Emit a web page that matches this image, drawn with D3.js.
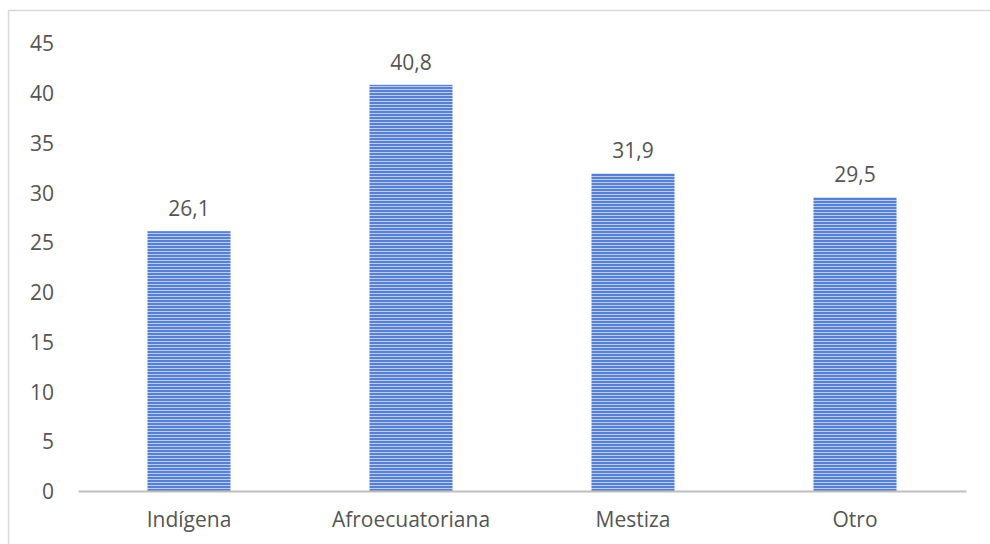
<!DOCTYPE html>
<html><head><meta charset="utf-8">
<script src="https://cdn.jsdelivr.net/npm/d3@7"></script>
<style>body{margin:0;background:#fff}svg{display:block}text{font-family:"Open Sans",sans-serif}</style>
</head><body>
<svg id="c" width="990" height="544"></svg>
<script>
const categories = ["Indígena","Afroecuatoriana","Mestiza","Otro"];
const values = [26.1, 40.8, 31.9, 29.5];
const valueLabels = ["26,1","40,8","31,9","29,5"];
const yTicks = [0,5,10,15,20,25,30,35,40,45];

const svg = d3.select("#c");
const defs = svg.append("defs");
const pat = defs.append("pattern").attr("id","stripes").attr("patternUnits","userSpaceOnUse")
  .attr("width",8).attr("height",3);
pat.append("rect").attr("width",8).attr("height",3).attr("fill","#5780d0");
pat.append("rect").attr("y",2).attr("width",8).attr("height",1).attr("fill","#b9cbef");

// frame
svg.append("path").attr("d","M8.5,544 V10.5 H990").attr("fill","none").attr("stroke","#d9d9d9").attr("stroke-width",1.5);

const x = d3.scaleBand().domain(categories).range([78,966]).paddingInner(0.626).paddingOuter(0.313);
const y = d3.scaleLinear().domain([0,45]).range([491,43]);

const yAxis = svg.append("g").attr("transform","translate(54,1)")
  .call(d3.axisLeft(y).tickValues(yTicks).tickSize(0).tickPadding(0).tickFormat(d3.format("d")));
yAxis.select(".domain").remove();
yAxis.selectAll("text").attr("fill","#555").attr("font-size",21).attr("font-family","'Open Sans',sans-serif");

svg.selectAll("rect.bar").data(values).join("rect").attr("class","bar")
  .attr("x",(d,i)=>x(categories[i])).attr("width",x.bandwidth())
  .attr("y",d=>y(d)).attr("height",d=>y(0)-y(d)).attr("fill","url(#stripes)");

const xAxis = svg.append("g").attr("transform",`translate(0,${y(0)})`)
  .call(d3.axisBottom(x).tickSize(0).tickPadding(21));
xAxis.select(".domain").attr("stroke","#bfbfbf").attr("stroke-width",2);
xAxis.selectAll("text").attr("fill","#555").attr("font-size",21).attr("font-family","'Open Sans',sans-serif");

svg.selectAll("text.vl").data(values).join("text").attr("class","vl")
  .attr("x",(d,i)=>x(categories[i])+x.bandwidth()/2).attr("y",d=>y(d)-15)
  .attr("text-anchor","middle").attr("font-size",21).attr("fill","#555")
  .text((d,i)=>valueLabels[i]);
</script>
</body></html>
